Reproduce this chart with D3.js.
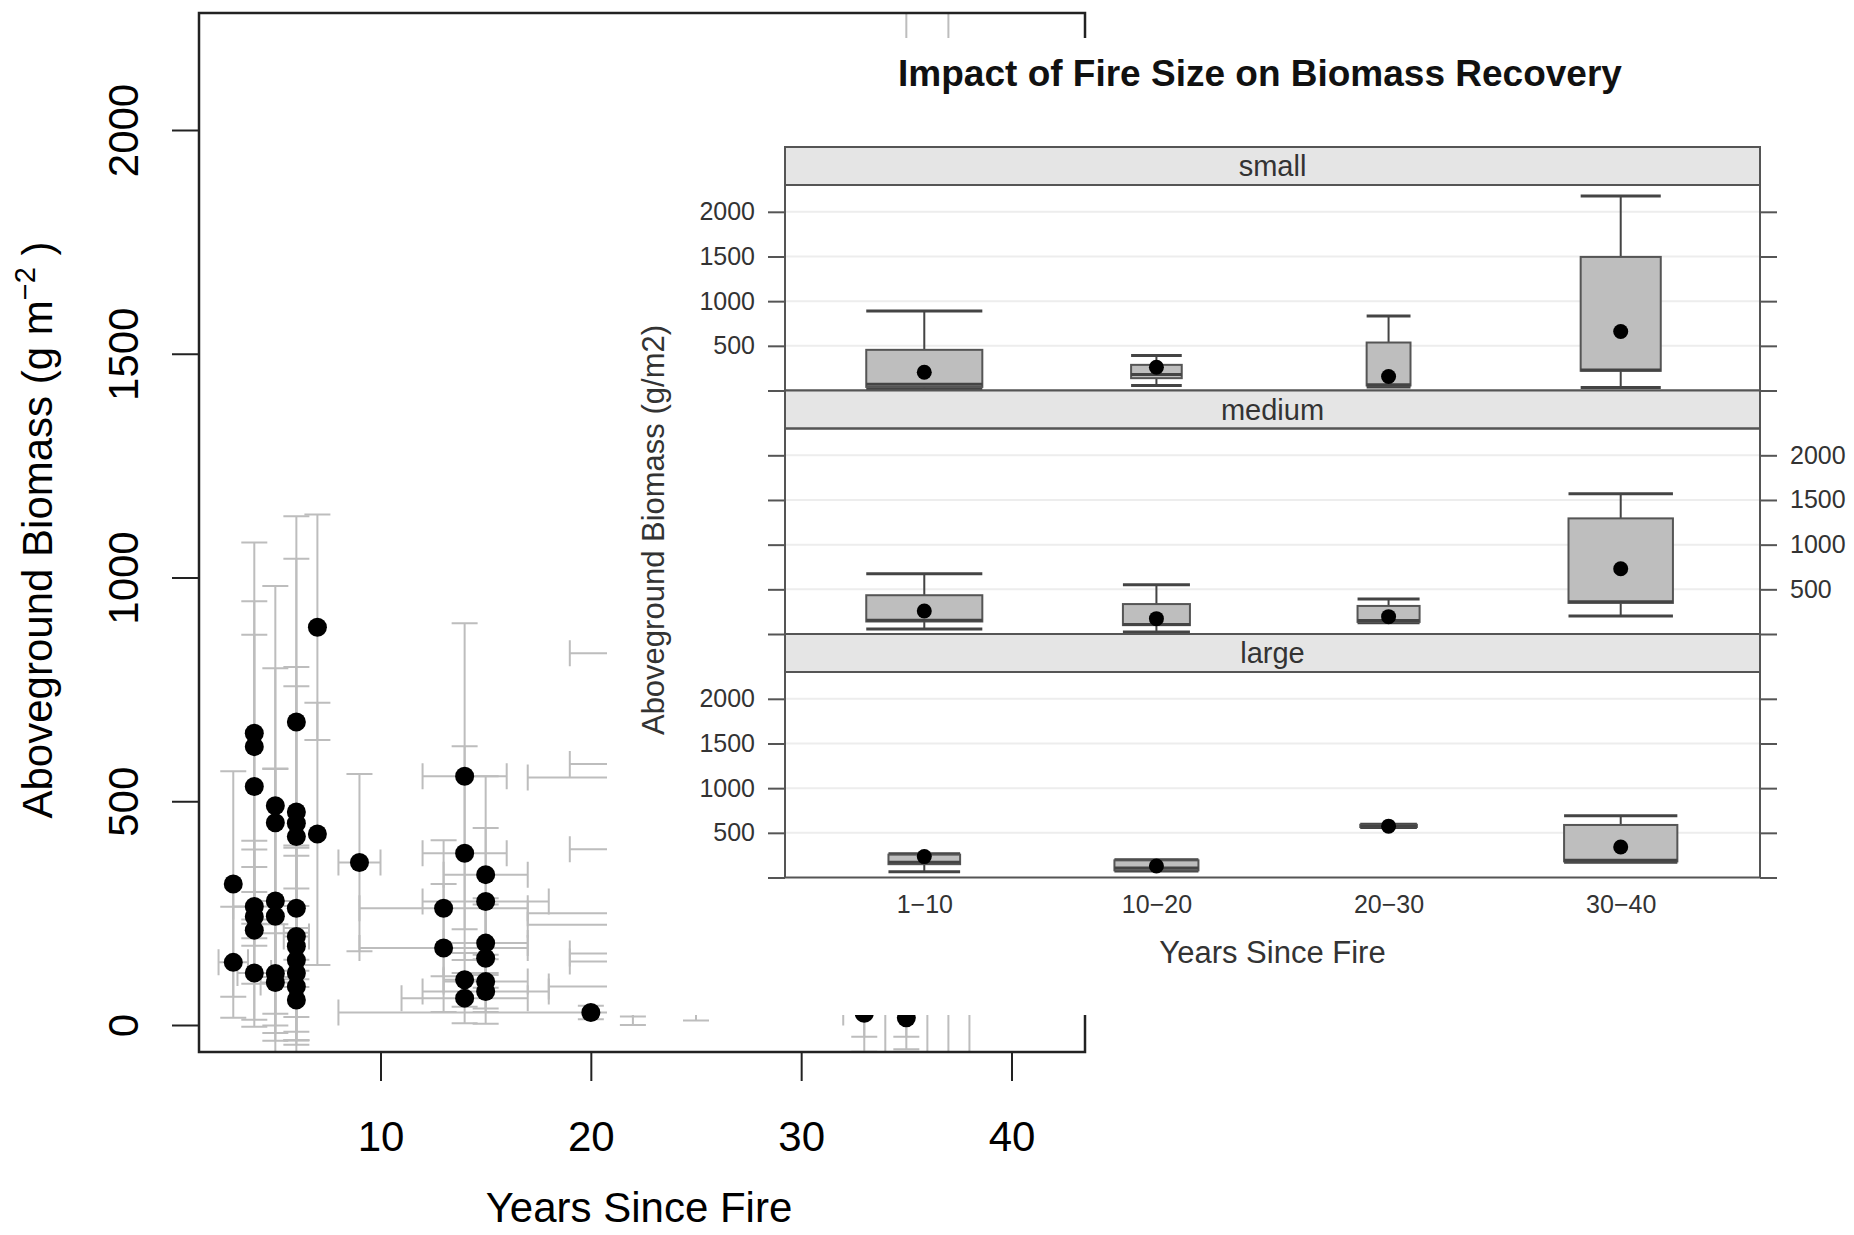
<!DOCTYPE html>
<html>
<head>
<meta charset="utf-8">
<script src="https://cdn.jsdelivr.net/npm/d3@7"></script>
<style>
  body { margin: 0; background: #fff; }
  svg { display: block; font-family: "Liberation Sans", Arial, Helvetica, sans-serif; }
</style>
</head>
<body>
<svg id="chart" width="1854" height="1235"></svg>
<script>
// background scatter: one entry per site
const siteYears   = [3,3, 4,4,4,4,4,4,4, 5,5,5,5,5,5, 6,6,6,6,6,6,6,6,6,6,6, 7,7, 9, 13,13, 14,14,14,14, 15,15,15,15,15,15, 20, 22,22,22,23,24,24,24,24,24,24,24,25, 33,33,34,35,35,36,37,38];
const siteBiomass = [315,140, 652,622,533,265,242,212,116, 490,452,277,243,115,95, 677,476,451,421,261,198,176,145,116,86,56, 889,427, 363, 261,172, 556,384,101,60, 336,276,183,149,97,75, 28, 553,300,250,86,831,583,393,250,224,160,142,300, 26,400,300,16,1200,150,1100,500];
const biomassErr  = [252,124, 426,325,339,88,150,200,120, 491,345,295,330,90,130, 460,566,349,336,140,180,220,160,150,120,90, 252,293, 198, 152,143, 342,239,60,56, 220,164,100,120,60,72, 15, 100,281,250,50,200,150,150,100,100,100,90,290, 52,460,500,42,1254,260,1300,700];
const yearsErr    = [0,0.7, 0,0,0,1,0,0,0.8, 0,0,1,0,0,0.7, 0,0,0,0,0,0.6,0,0,0,0,0, 0,0, 1, 4,4, 2,2,1,3, 2,3,2,0,2,3, 12, 5,0,0,5,5,5,5,7,7,5,5,0, 0,0,0,0,0,0,0,0];
const bgXTicks = [10, 20, 30, 40];
const bgYTicks = [0, 500, 1000, 1500, 2000];

// inset box plots, rows per age class: [low whisker, q1, median, q3, high whisker, mean]
const ageClasses = ["1\u221210", "10\u221220", "20\u221230", "30\u221240"];
const fireSizes = ["small", "medium", "large"];
const smallBox  = [[20,40,70,455,891,205], [56,138,180,287,391,261], [40,56,63,537,835,157], [34,220,230,1495,2177,660]];
const mediumBox = [[56,140,155,434,675,258], [22,99,105,335,550,172], [125,135,150,314,391,194], [202,348,360,1294,1570,731]];
const largeBox  = [[64,149,170,256,265,234], [72,80,106,192,200,128], [560,565,575,590,595,575], [170,180,192,588,690,341]];
const smallN  = [21, 4, 3, 10];
const mediumN = [21, 7, 6, 17];
const largeN  = [8, 11, 5, 20];
const insetYTicks = [0, 500, 1000, 1500, 2000];

const svg = d3.select("#chart");

// ---------- background plot ----------
const frame = { l: 199, r: 1085, t: 13, b: 1052 };
const x = d3.scaleLinear().domain([10, 40]).range([380.5, 1011.5]);
const y = d3.scaleLinear().domain([0, 2000]).range([1025, 130]);

svg.append("defs").append("clipPath").attr("id", "clipBg").append("rect")
  .attr("x", frame.l).attr("y", frame.t)
  .attr("width", frame.r - frame.l).attr("height", frame.b - frame.t);

const pts = siteYears.map((v, i) => ({ x: v, y: siteBiomass[i], ey: biomassErr[i], ex: yearsErr[i] }));
const cap = 13;

const bars = svg.append("g").attr("clip-path", "url(#clipBg)")
  .attr("stroke", "#bdbdbd").attr("stroke-width", 2).attr("fill", "none");
bars.selectAll("path.ey").data(pts.filter(d => d.ey > 0)).enter().append("path")
  .attr("class", "ey")
  .attr("d", d => {
    const cx = x(d.x), y0 = y(d.y - d.ey), y1 = y(d.y + d.ey);
    return `M${cx},${y0}V${y1}M${cx - cap},${y0}H${cx + cap}M${cx - cap},${y1}H${cx + cap}`;
  });
bars.selectAll("path.ex").data(pts.filter(d => d.ex > 0)).enter().append("path")
  .attr("class", "ex")
  .attr("d", d => {
    const cy = y(d.y), x0 = x(d.x - d.ex), x1 = x(d.x + d.ex);
    return `M${x0},${cy}H${x1}M${x0},${cy - cap}V${cy + cap}M${x1},${cy - cap}V${cy + cap}`;
  });

svg.append("g").attr("clip-path", "url(#clipBg)")
  .selectAll("circle").data(pts).enter().append("circle")
  .attr("cx", d => x(d.x)).attr("cy", d => y(d.y))
  .attr("r", 9.5).attr("fill", "#000");

svg.append("rect")
  .attr("x", frame.l).attr("y", frame.t)
  .attr("width", frame.r - frame.l).attr("height", frame.b - frame.t)
  .attr("fill", "none").attr("stroke", "#222").attr("stroke-width", 2.5);

const yAx = svg.append("g").attr("transform", `translate(${frame.l},0)`)
  .call(d3.axisLeft(y).tickValues(bgYTicks).tickSize(27).tickFormat(d3.format("d")));
yAx.select(".domain").remove();
yAx.selectAll("line").attr("stroke", "#222").attr("stroke-width", 2);
yAx.selectAll("text")
  .attr("x", null).attr("dy", null)
  .attr("transform", "translate(-61,0) rotate(-90)")
  .attr("text-anchor", "middle")
  .attr("font-size", 42).attr("font-family", null).attr("fill", "#000");

const xAx = svg.append("g").attr("transform", `translate(0,${frame.b})`)
  .call(d3.axisBottom(x).tickValues(bgXTicks).tickSize(29).tickFormat(d3.format("d")));
xAx.select(".domain").remove();
xAx.selectAll("line").attr("stroke", "#222").attr("stroke-width", 2);
xAx.selectAll("text")
  .attr("y", 99).attr("dy", null)
  .attr("font-size", 42).attr("font-family", null).attr("fill", "#000");

svg.append("text")
  .attr("x", 639).attr("y", 1222).attr("text-anchor", "middle")
  .attr("font-size", 42).text("Years Since Fire");

const yLab = svg.append("text")
  .attr("transform", "translate(52,530) rotate(-90)")
  .attr("text-anchor", "middle").attr("font-size", 42);
yLab.append("tspan").text("Aboveground Biomass (g m");
yLab.append("tspan").attr("dy", -17).attr("font-size", 29).text("\u22122");
yLab.append("tspan").attr("dy", 17).text(" )");

// ---------- inset ----------
svg.append("rect").attr("x", 607).attr("y", 38)
  .attr("width", 1854 - 607).attr("height", 1015 - 38).attr("fill", "#fff");

svg.append("text")
  .attr("x", 1260).attr("y", 86).attr("text-anchor", "middle")
  .attr("font-size", 37).attr("font-weight", "bold").attr("fill", "#111")
  .text("Impact of Fire Size on Biomass Recovery");

const pL = 785, pR = 1760, pTop = 147, stripH = 38, panelH = 205.5;
const xb = d3.scalePoint().domain(ageClasses).range([pL, pR]).padding(0.6);
const boxes = [smallBox, mediumBox, largeBox];
const counts = [smallN, mediumN, largeN];
const maxN = d3.max(counts.flat());

fireSizes.forEach((size, i) => {
  const sTop = pTop + i * (stripH + panelH);
  const top = sTop + stripH, bottom = top + panelH;
  const yp = d3.scaleLinear().domain([0, 2300]).range([bottom, top]);
  const g = svg.append("g");

  g.selectAll("line.grid").data(insetYTicks.slice(1)).enter().append("line")
    .attr("x1", pL).attr("x2", pR).attr("y1", d => yp(d)).attr("y2", d => yp(d))
    .attr("stroke", "#ededed").attr("stroke-width", 2);

  // strip
  g.append("rect").attr("x", pL).attr("y", sTop).attr("width", pR - pL).attr("height", stripH)
    .attr("fill", "#e5e5e5").attr("stroke", "#555").attr("stroke-width", 2);
  g.append("text").attr("x", (pL + pR) / 2).attr("y", sTop + stripH / 2 + 10)
    .attr("text-anchor", "middle").attr("font-size", 29).attr("fill", "#333").text(size);

  // axes
  const left = g.append("g").attr("transform", `translate(${pL},0)`)
    .call(d3.axisLeft(yp).tickValues(insetYTicks).tickSize(17).tickPadding(13)
      .tickFormat(d => (i !== 1 && d > 0) ? d : ""));
  const right = g.append("g").attr("transform", `translate(${pR},0)`)
    .call(d3.axisRight(yp).tickValues(insetYTicks).tickSize(17).tickPadding(13)
      .tickFormat(d => (i === 1 && d > 0) ? d : ""));
  [left, right].forEach(a => {
    a.select(".domain").remove();
    a.selectAll("line").attr("stroke", "#555").attr("stroke-width", 2);
    a.selectAll("text").attr("font-size", 25).attr("font-family", null).attr("fill", "#333");
  });

  // boxes
  const data = boxes[i].map((s, j) => ({ cat: ageClasses[j], s, w: xb.step() * 0.5 * Math.sqrt(counts[i][j] / maxN) }));
  const bg = g.selectAll("g.box").data(data).enter().append("g").attr("class", "box");
  bg.append("path")
    .attr("d", d => { const cx = xb(d.cat);
      return `M${cx},${yp(d.s[3])}V${yp(d.s[4])}M${cx},${yp(d.s[1])}V${yp(d.s[0])}`; })
    .attr("stroke", "#444").attr("stroke-width", 2);
  bg.append("path")
    .attr("d", d => { const cx = xb(d.cat), h = d.w / 2;
      return `M${cx - h},${yp(d.s[4])}H${cx + h}M${cx - h},${yp(d.s[0])}H${cx + h}`; })
    .attr("stroke", "#444").attr("stroke-width", 3);
  bg.append("rect")
    .attr("x", d => xb(d.cat) - d.w / 2).attr("width", d => d.w)
    .attr("y", d => yp(d.s[3])).attr("height", d => Math.max(1, yp(d.s[1]) - yp(d.s[3])))
    .attr("fill", "#bebebe").attr("stroke", "#555").attr("stroke-width", 2);
  bg.append("line")
    .attr("x1", d => xb(d.cat) - d.w / 2).attr("x2", d => xb(d.cat) + d.w / 2)
    .attr("y1", d => yp(d.s[2])).attr("y2", d => yp(d.s[2]))
    .attr("stroke", "#444").attr("stroke-width", 3);
  bg.append("circle")
    .attr("cx", d => xb(d.cat)).attr("cy", d => yp(d.s[5])).attr("r", 7.5).attr("fill", "#000");

  g.append("rect").attr("x", pL).attr("y", top).attr("width", pR - pL).attr("height", panelH)
    .attr("fill", "none").attr("stroke", "#555").attr("stroke-width", 2);

  if (i === fireSizes.length - 1) {
    const xa = g.append("g").attr("transform", `translate(0,${bottom})`)
      .call(d3.axisBottom(xb).tickSize(0).tickPadding(0));
    xa.select(".domain").remove();
    xa.selectAll("text").attr("y", 35).attr("dy", null)
      .attr("font-size", 25).attr("font-family", null).attr("fill", "#333");
  }
});

svg.append("text")
  .attr("x", (pL + pR) / 2).attr("y", 963).attr("text-anchor", "middle")
  .attr("font-size", 31).attr("fill", "#333").text("Years Since Fire");
svg.append("text")
  .attr("transform", "translate(664,530) rotate(-90)").attr("text-anchor", "middle")
  .attr("font-size", 31).attr("fill", "#333").text("Aboveground Biomass (g/m2)");
</script>
</body>
</html>
